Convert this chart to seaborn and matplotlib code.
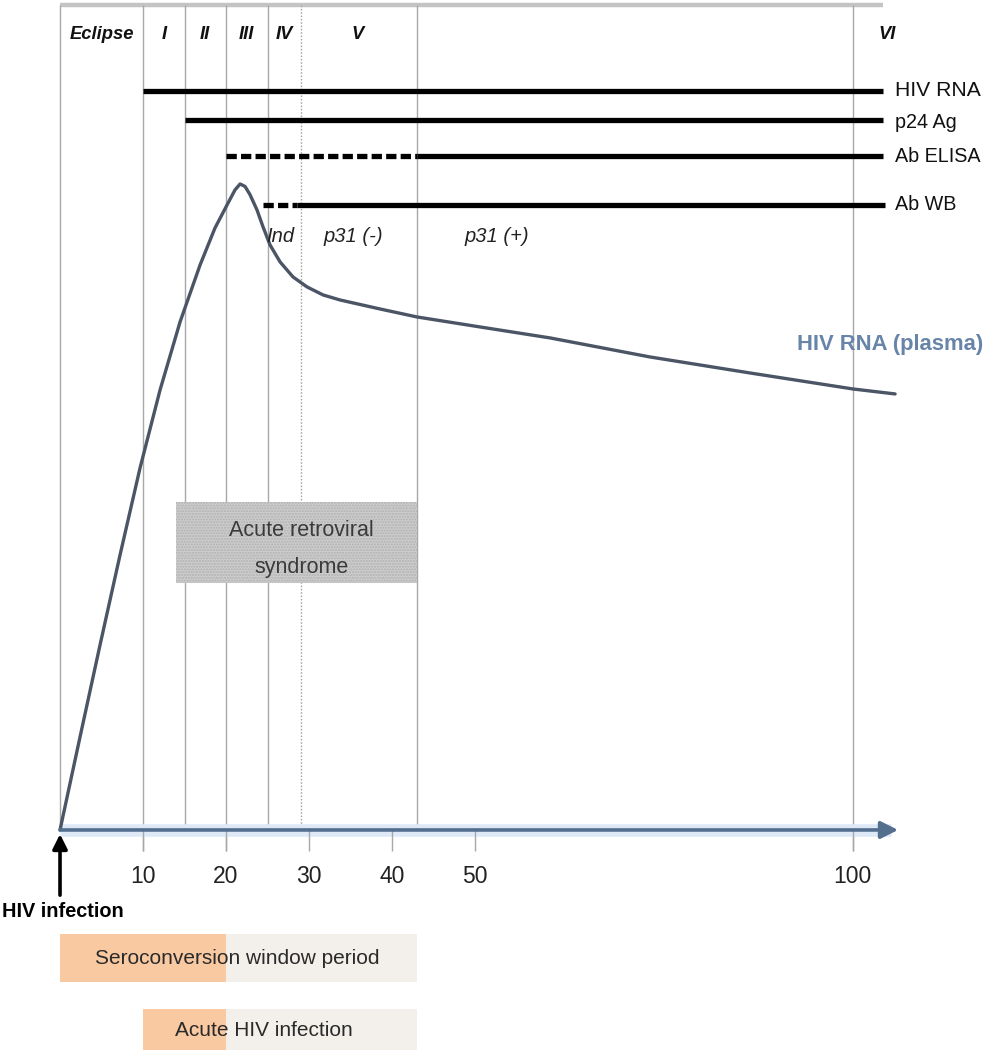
import numpy as np
import pandas as pd
import matplotlib
matplotlib.use("Agg")
import matplotlib.pyplot as plt
import seaborn as sns

# ---------------- data ----------------
# viral load curve (days since infection, relative level)
days = [0, 2.41, 4.82, 7.23, 9.64, 12.05, 14.46, 16.87, 18.67, 20.12, 21.08,
        21.69, 22.29, 22.89, 23.73, 24.46, 25.30, 26.51, 28.07, 29.76, 31.69,
        33.73, 38.55, 43.01, 50.66, 59.93, 73.17, 86.41, 100.05, 105.6]
viral_load = [0, 11.27, 22.42, 33.33, 43.88, 53.33, 61.58, 68.48, 72.97, 75.76,
              77.58, 78.3, 78.0, 77.0, 75.15, 73.09, 70.91, 68.85, 67.03,
              65.82, 64.85, 64.24, 63.15, 62.18, 60.97, 59.64, 57.33, 55.39,
              53.45, 52.85]

stage_names = ["Eclipse", "I", "II", "III", "IV", "V", "VI"]
stage_bounds = [0, 10, 15, 20, 25, 29, 43, 100]

assays = ["HIV RNA", "p24 Ag", "Ab ELISA", "Ab WB"]
assay_start = [10, 15, 20, 24.5]
assay_solid_from = [10, 15, 43, 28.5]
assay_end = [104, 104, 104, 104.3]

wb_labels = ["Ind", "p31 (-)", "p31 (+)"]
wb_label_x = [26.5, 35.3, 52.9]

tick_values = [10, 20, 30, 40, 50, 100]
tick_labels = ["10", "20", "30", "40", "50", "100"]

ars_span = [14, 43]            # acute retroviral syndrome
window_span = [0, 20, 43]      # seroconversion window: orange to 20, grey to 43
acute_span = [10, 20, 43]      # acute HIV infection

# ---------------- style ----------------
sns.set_theme(style="white")
plt.rcParams["font.family"] = ["Liberation Sans", "DejaVu Sans"]

# ---------------- scale ----------------
def fwd(x):
    x = np.asarray(x, dtype=float)
    return np.where(x <= 50, x, 50 + (x - 50) * 0.91)

def inv(s):
    s = np.asarray(s, dtype=float)
    return np.where(s <= 50, s, 50 + (s - 50) / 0.91)

fig = plt.figure(figsize=(9.88, 10.5), dpi=100)
ax = fig.add_axes([0, 0, 1, 1])
ax.set_xscale("function", functions=(fwd, inv))
ax.set_xlim(-7.23, 117.9)
ax.set_ylim(-26.67, 100.6)
ax.axis("off")

GRAY = "#a8a8a8"
TOP = 100.0

# top border
ax.plot([0, 104], [TOP, TOP], color="#c4c4c4", lw=3.2, solid_capstyle="butt", zorder=1)

# stage boundaries
for b in stage_bounds:
    low = -2.6 if b in tick_values else 0
    ls = (0, (1.2, 1.2)) if b == 29 else "-"
    ax.vlines(b, low, TOP, colors=GRAY, lw=1.0, linestyles=ls, zorder=1)

# stage labels
for i, name in enumerate(stage_names):
    if name == "VI":
        xc = 104.6
    elif name == "V":
        xc = 35.8
    else:
        lo, hi = stage_bounds[i], stage_bounds[i + 1]
        xc = float(inv((fwd(lo) + fwd(hi)) / 2))
    ax.text(xc, 96.4, name, ha="center", va="center", fontsize=13.2,
            fontweight="bold", fontstyle="italic", color="#111111")

# acute retroviral syndrome box
ax.barh(34.85, ars_span[1] - ars_span[0], left=ars_span[0], height=9.9,
        color="#cdcdcd", edgecolor="#b0b0b0", hatch="......", lw=0, zorder=2)
xc_ars = float(inv((fwd(ars_span[0]) + fwd(ars_span[1])) / 2)) + 0.6
ax.text(xc_ars, 36.3, "Acute retroviral", ha="center", va="center",
        fontsize=15.5, color="#3a3a3a", zorder=3)
ax.text(xc_ars, 31.8, "syndrome", ha="center", va="center",
        fontsize=15.5, color="#3a3a3a", zorder=3)

# viral load curve
df = pd.DataFrame({"day": days, "load": viral_load})
sns.lineplot(data=df, x="day", y="load", ax=ax, sort=False, color="#4b5565",
             lw=2.4, zorder=4)
ax.text(92.6, 58.8, "HIV RNA (plasma)", ha="left", va="center",
        fontsize=15.8, fontweight="bold", color="#6884a8")

# assay lines
assay_y = [89.6, 86.1, 81.7, 75.8]
label_y = [89.6, 85.8, 81.6, 75.8]
label_fs = [15.2, 14.2, 14.2, 14.2]
for name, y, s, sf, e, ly, fs in zip(assays, assay_y, assay_start, assay_solid_from,
                                     assay_end, label_y, label_fs):
    if sf > s:
        ax.plot([s, sf], [y, y], color="black", lw=3.8,
                linestyle=(0, (1.95, 0.8)), dash_capstyle="butt", zorder=5)
    ax.plot([sf, e], [y, y], color="black", lw=3.8, solid_capstyle="butt", zorder=5)
    ax.text(105.6, ly, name, ha="left", va="center", fontsize=fs, color="#111111")

for lab, xx in zip(wb_labels, wb_label_x):
    ax.text(xx, 71.9, lab, ha="center", va="center", fontsize=14.5,
            fontstyle="italic", color="#222222", zorder=6)

# x axis with arrow
ax.plot([0, 105], [0, 0], color="#dde9f6", lw=9, solid_capstyle="butt", zorder=2)
ax.annotate("", xy=(106, 0), xytext=(0, 0),
            arrowprops=dict(arrowstyle="-|>", color="#546f8e", lw=2.6,
                            mutation_scale=26, shrinkA=0, shrinkB=0), zorder=6)
ax.vlines(tick_values, -2.6, 0, colors=GRAY, lw=1.0)
for v, t in zip(tick_values, tick_labels):
    ax.text(v, -5.7, t, ha="center", va="center", fontsize=16.5, color="#222222")

# infection arrow
ax.annotate("", xy=(0, -0.5), xytext=(0, -7.9),
            arrowprops=dict(arrowstyle="-|>", color="black", lw=2.6,
                            mutation_scale=22, shrinkA=0, shrinkB=0), zorder=7)
ax.text(-6.95, -9.9, "HIV infection", ha="left", va="center", fontsize=14.3,
        fontweight="bold", color="black")

# bottom period bars
ORANGE = "#f9c9a2"
LIGHT = "#f3f0eb"
for span, yc, text, tx in [(window_span, -15.55, "Seroconversion window period", 21.3),
                           (acute_span, -24.6, "Acute HIV infection", 24.6)]:
    ax.barh(yc, span[1] - span[0], left=span[0], height=5.8, color=ORANGE, lw=0)
    ax.barh(yc, span[2] - span[1], left=span[1], height=5.8, color=LIGHT, lw=0)
    ax.text(tx, yc + (0 if yc > -20 else 0.3), text, ha="center", va="center",
            fontsize=15, color="#2a2a2a")

fig.savefig("out.png", dpi=100)
